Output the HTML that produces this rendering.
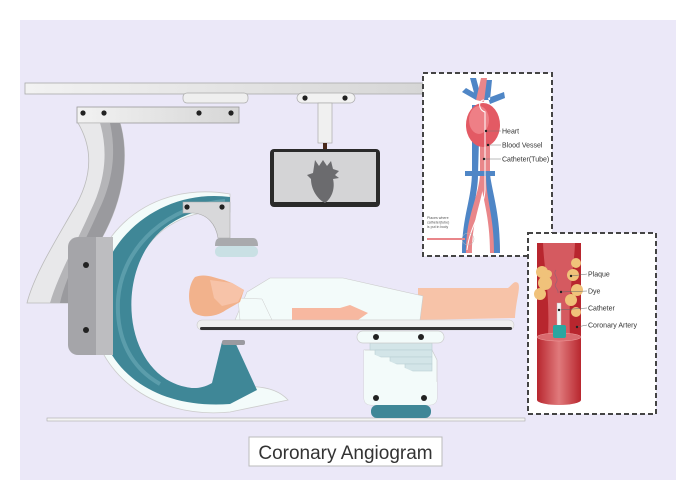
<!DOCTYPE html>
<html><head><meta charset="utf-8"><style>
html,body{margin:0;padding:0;background:#fff;}
svg{display:block;}
text{font-family:"Liberation Sans",sans-serif;}
</style></head><body>
<svg width="692" height="500" viewBox="0 0 692 500" xmlns="http://www.w3.org/2000/svg">
<defs>
<linearGradient id="vg" x1="0" x2="1"><stop offset="0" stop-color="#b8262e"/><stop offset="0.5" stop-color="#e07a7c"/><stop offset="1" stop-color="#b8262e"/></linearGradient>
<linearGradient id="rail" x1="0" x2="1"><stop offset="0" stop-color="#f2f2f2"/><stop offset="1" stop-color="#d6d6d6"/></linearGradient>
</defs>
<rect x="20" y="20" width="656" height="460" fill="#ebe8f8"/>

<!-- ceiling rail -->
<rect x="25" y="83" width="400" height="11" fill="url(#rail)" stroke="#aaa" stroke-width="0.8"/>
<rect x="183" y="93" width="65" height="10" rx="4" fill="#efefef" stroke="#aaa" stroke-width="0.7"/>
<rect x="77" y="107" width="162" height="16" fill="url(#rail)" stroke="#999" stroke-width="0.8"/>
<g fill="#222"><circle cx="83" cy="113" r="2.6"/><circle cx="104" cy="113" r="2.6"/><circle cx="199" cy="113" r="2.6"/><circle cx="231" cy="113" r="2.6"/></g>

<!-- monitor hanger -->
<rect x="297" y="93" width="58" height="10" rx="5" fill="#f2f2f2" stroke="#aaa" stroke-width="0.7"/>
<circle cx="305" cy="98" r="2.6" fill="#222"/><circle cx="345" cy="98" r="2.6" fill="#222"/>
<rect x="318" y="103" width="14" height="40" fill="#f0f0f0" stroke="#aaa" stroke-width="0.7"/>
<rect x="323" y="143" width="4" height="7" fill="#4a2a1a"/>
<rect x="270" y="149" width="110" height="58" rx="4" fill="#2a2a2a"/>
<rect x="274" y="152" width="102" height="50" fill="#d4d4d6"/>
<path d="M315 160 l4 6 4-6 4 6 4-5 2 8 6 2-4 4 4 3-6 1 c2 8 0 18-8 24 c-8-4-14-14-14-24 l-4-4 6-2z" fill="#6b6b6e"/>

<!-- S column -->
<path d="M78 123 L120 123 C128 150 126 190 106 230 C92 258 74 280 68 303 L27 303 C34 275 56 240 72 212 C92 180 94 150 78 123Z" fill="#e8e8ea" stroke="#bbb" stroke-width="0.8"/>
<path d="M100 123 L120 123 C128 150 126 190 106 230 C92 258 74 280 68 303 L50 303 C58 275 78 240 90 212 C106 180 108 150 100 123Z" fill="#b5b5b8"/>
<path d="M110 123 L120 123 C128 150 126 190 106 230 C92 258 74 280 68 303 L60 303 C66 275 86 240 98 212 C114 180 116 150 110 123Z" fill="#9a9a9e"/>

<!-- C arm -->
<path d="M230 194 C150 180 88 235 90 305 C92 370 150 420 230 412 L288 400 C270 380 230 385 190 398 C130 385 118 300 140 258 C160 220 200 208 230 212Z" fill="#f3fbfa" stroke="#ccc" stroke-width="0.8"/>
<path d="M230 197 C160 188 98 240 98 305 C98 365 150 410 230 404 L257 390 L235 342 L222 342 L212 383 C200 390 190 388 186 387 C140 378 122 320 136 272 C148 232 178 210 230 205Z" fill="#3f8797"/>
<path d="M225 201 C170 205 122 245 118 300 C116 340 132 368 160 384" fill="none" stroke="#5b9dab" stroke-width="4"/>
<rect x="222" y="340" width="23" height="5" rx="2" fill="#9a9aa0"/>
<!-- detector arm -->
<path d="M183 202 L230 202 L230 238 L218 238 C216 225 208 214 193 213 L183 213Z" fill="#d8d8da" stroke="#aaa" stroke-width="0.6"/>
<circle cx="187" cy="207" r="2.6" fill="#222"/><circle cx="222" cy="207" r="2.6" fill="#222"/>
<path d="M220 238 L253 238 Q258 238 258 246 L215 246 Q215 238 220 238Z" fill="#a9aaad"/>
<rect x="215" y="246" width="43" height="11" rx="5" fill="#c9e0e4"/>
<!-- mount -->
<rect x="68" y="237" width="45" height="118" rx="10" fill="#a5a5a9"/>
<rect x="96" y="237" width="17" height="118" fill="#bdbdc0"/>
<circle cx="86" cy="265" r="3" fill="#222"/><circle cx="86" cy="330" r="3" fill="#222"/>

<!-- floor -->
<rect x="47" y="418" width="478" height="3" fill="#f4f4f4" stroke="#aaa" stroke-width="0.6"/>

<!-- pedestal -->
<path d="M364 350 L432 350 L437 360 L437 398 Q437 405 428 405 L372 405 Q364 405 364 398Z" fill="#f3fbfa" stroke="#ccc" stroke-width="0.7"/>
<g fill="#d3e5e8" stroke="#b9cfd3" stroke-width="0.6"><rect x="370" y="343" width="62" height="7"/><rect x="375" y="350" width="57" height="7"/><rect x="390" y="357" width="42" height="7"/><rect x="405" y="364" width="27" height="7"/></g>
<path d="M364 350 L437 382 L437 398 Q437 405 428 405 L372 405 Q364 405 364 398Z" fill="#f3fbfa"/>
<rect x="357" y="331" width="87" height="12" rx="6" fill="#f3fbfa" stroke="#ccc" stroke-width="0.7"/>
<circle cx="376" cy="337" r="3" fill="#222"/><circle cx="421" cy="337" r="3" fill="#222"/>
<circle cx="376" cy="398" r="3" fill="#222"/><circle cx="424" cy="398" r="3" fill="#222"/>
<rect x="371" y="405" width="60" height="13" rx="6" fill="#3f8797"/>

<!-- patient -->
<path d="M418 288 L508 288 C512 285 514 280 518 283 C521 287 516 300 515 318 L418 320Z" fill="#f7c3a8"/>
<path d="M247 292 L270 278 L343 278 L423 296 L420 320 L235 320Z" fill="#f3fbfa" stroke="#ccc" stroke-width="0.6"/>
<path d="M292 308 L340 308 L350 305 L368 313 L358 320 L292 320Z" fill="#f7b8a0"/>
<path d="M238 298 L262 299 L272 320 L240 320Z" fill="#f3fbfa" stroke="#ccc" stroke-width="0.5"/>
<path d="M195 277 C205 273 215 278 224 280 L232 283 L244 290 L240 302 L226 310 C215 318 200 318 193 312 C187 302 188 285 195 277Z" fill="#f2b28c"/>
<path d="M210 280 L232 283 L244 290 L238 302 L222 306 L214 298Z" fill="#f7c3a8"/>

<!-- table -->
<rect x="197" y="320" width="317" height="10" rx="5" fill="#efefef" stroke="#ccc" stroke-width="0.6"/>
<rect x="200" y="327" width="312" height="3" rx="1.5" fill="#333"/>

<!-- inset 1 -->
<rect x="423" y="73" width="129" height="183" fill="#fff" stroke="#444" stroke-width="2" stroke-dasharray="5,3"/>
<g>
<path d="M472 105 L472 170 C472 200 462 215 462 253 L470 253 C470 215 478 195 478 175 L480 105Z" fill="#4f86c6"/>
<path d="M480 105 L480 175 C482 198 490 215 490 253 L500 253 C500 215 490 195 490 170 L490 105Z" fill="#e9868a"/>
<path d="M480 175 C478 200 466 215 466 253 L472 253 C472 215 484 200 484 175Z" fill="#e9868a"/>
<path d="M490 175 C494 200 500 215 500 253 L494 253 C494 215 486 200 486 175Z" fill="#4f86c6"/>
<rect x="465" y="171" width="30" height="5" fill="#4f86c6"/>
<path d="M470 78 L476 100 L482 100 L476 78Z M482 80 L484 100 L490 100 L492 80Z M462 92 L476 100 L480 96 L466 88Z M488 98 L504 92 L505 98 L490 104Z" fill="#4f86c6"/>
<path d="M476 100 L481 78 L487 78 L484 102Z" fill="#e9868a"/>
<ellipse cx="483" cy="125" rx="17" ry="22" fill="#e35a64"/>
<ellipse cx="479" cy="120" rx="10" ry="14" fill="#ee7f86"/>
<path d="M484 100 C478 100 478 110 485 112 L485 190 C484 210 470 225 467 250" fill="none" stroke="#fff" stroke-width="1"/>
<line x1="427" y1="239" x2="465" y2="239" stroke="#e9868a" stroke-width="2"/>
<circle cx="468" cy="239" r="6" fill="none" stroke="#bbb" stroke-width="0.5"/>
</g>
<g stroke="#777" stroke-width="0.5"><line x1="486" y1="131" x2="501" y2="131"/><line x1="488" y1="145" x2="501" y2="145"/><line x1="484" y1="159" x2="501" y2="159"/></g>
<g fill="#222"><circle cx="486" cy="131" r="1.2"/><circle cx="488" cy="145" r="1.2"/><circle cx="484" cy="159" r="1.2"/></g>
<g font-size="7" fill="#333"><text x="502" y="133.5">Heart</text><text x="502" y="147.5">Blood Vessel</text><text x="502" y="161.5">Catheter(Tube)</text></g>
<g font-size="3.6" fill="#555"><text x="427" y="219">Places where</text><text x="427" y="223.5">catheter(tube)</text><text x="427" y="228">is put in body</text></g>

<!-- inset 2 -->
<rect x="528" y="233" width="128" height="181" fill="#fff" stroke="#444" stroke-width="2" stroke-dasharray="5,3"/>
<rect x="537" y="243" width="44" height="94" fill="#b8262e"/>
<path d="M543 243 L575 243 C574 270 568 290 570 337 L548 337 C550 290 544 270 543 243Z" fill="#d55a60"/>
<g fill="#f0c27a"><circle cx="542" cy="272" r="6"/><circle cx="545" cy="283" r="7"/><circle cx="540" cy="294" r="6"/><circle cx="548" cy="274" r="4"/><circle cx="576" cy="263" r="5"/><circle cx="573" cy="275" r="6"/><circle cx="577" cy="290" r="6"/><circle cx="571" cy="300" r="6"/><circle cx="576" cy="312" r="5"/></g>
<path d="M537 337 L581 337 L581 400 A22 5 0 0 1 537 400Z" fill="url(#vg)"/>
<ellipse cx="559" cy="337" rx="22" ry="4" fill="#d96a6e" stroke="#f0a0a0" stroke-width="0.5"/>
<rect x="557" y="303" width="4" height="24" fill="#f4f4f4" stroke="#bbb" stroke-width="0.4"/>
<rect x="553" y="325" width="13" height="13" rx="2" fill="#2aa6a0"/>
<path d="M556 270 c-4 5 4 8 0 13 c-3 4 3 6 2 10" fill="none" stroke="#a06070" stroke-width="0.8"/>
<g stroke="#666" stroke-width="0.5"><line x1="571" y1="276" x2="587" y2="274"/><line x1="561" y1="292" x2="587" y2="291"/><line x1="559" y1="310" x2="587" y2="308"/><line x1="577" y1="327" x2="587" y2="325"/></g>
<g fill="#222"><circle cx="571" cy="276" r="1.2"/><circle cx="561" cy="292" r="1.2"/><circle cx="559" cy="310" r="1.2"/><circle cx="577" cy="327" r="1.2"/></g>
<g font-size="7" fill="#333"><text x="588" y="276.5">Plaque</text><text x="588" y="293.5">Dye</text><text x="588" y="310.5">Catheter</text><text x="588" y="327.5">Coronary Artery</text></g>

<!-- caption -->
<rect x="249" y="437" width="193" height="29" fill="#fff" stroke="#bbb" stroke-width="1"/>
<text x="345.5" y="459" font-size="19" fill="#333" text-anchor="middle">Coronary Angiogram</text>
</svg>
</body></html>
